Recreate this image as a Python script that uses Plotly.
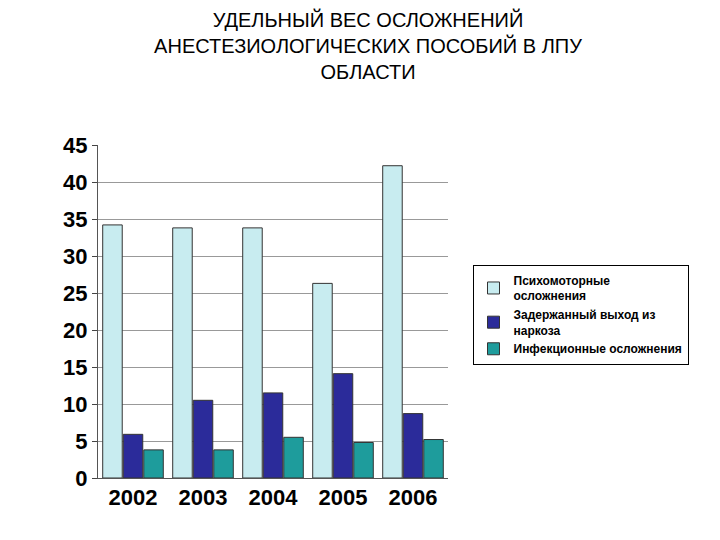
import plotly.graph_objects as go

years = ["2002", "2003", "2004", "2005", "2006"]
psycho = [34.2, 33.8, 33.8, 26.3, 42.2]
delayed = [5.9, 10.5, 11.5, 14.1, 8.7]
infect = [3.8, 3.8, 5.5, 4.8, 5.2]
names = ["<b>Психомоторные<br>осложнения</b>", "<b>Задержанный выход из<br>наркоза</b>", "<b>Инфекционные осложнения</b>"]
colors = ["#C8ECF0", "#2B2B9A", "#1E9C9C"]

fig = go.Figure()
for vals, n, c in zip([psycho, delayed, infect], names, colors):
    fig.add_bar(x=years, y=vals, name=n, marker=dict(color=c, line=dict(color="#333", width=1)))

fig.update_layout(
    width=720, height=540, paper_bgcolor="white", plot_bgcolor="white",
    font=dict(family="Liberation Sans, Arial", color="black"),
    title=dict(text="УДЕЛЬНЫЙ ВЕС ОСЛОЖНЕНИЙ<br>АНЕСТЕЗИОЛОГИЧЕСКИХ ПОСОБИЙ В ЛПУ<br>ОБЛАСТИ",
               x=0.5, xanchor="center", y=0.965, yanchor="top", font=dict(size=20)),
    margin=dict(l=90, r=280, t=137, b=70),
    bargap=0.12, bargroupgap=0.05,
    legend=dict(x=1.07, y=0.64, xanchor="left", yanchor="top", bordercolor="black", borderwidth=1,
                font=dict(size=12, family="Liberation Sans, Arial"), tracegroupgap=2),
    xaxis=dict(tickfont=dict(size=22, family="Liberation Sans, Arial", weight="bold"), showline=True, linecolor="#555"),
    yaxis=dict(range=[0, 45], dtick=5, showgrid=True, gridcolor="#999", showline=True, linecolor="#555",
               tickfont=dict(size=22, family="Liberation Sans, Arial", weight="bold"), ticks="outside"),
)
fig.write_html("out.html")
